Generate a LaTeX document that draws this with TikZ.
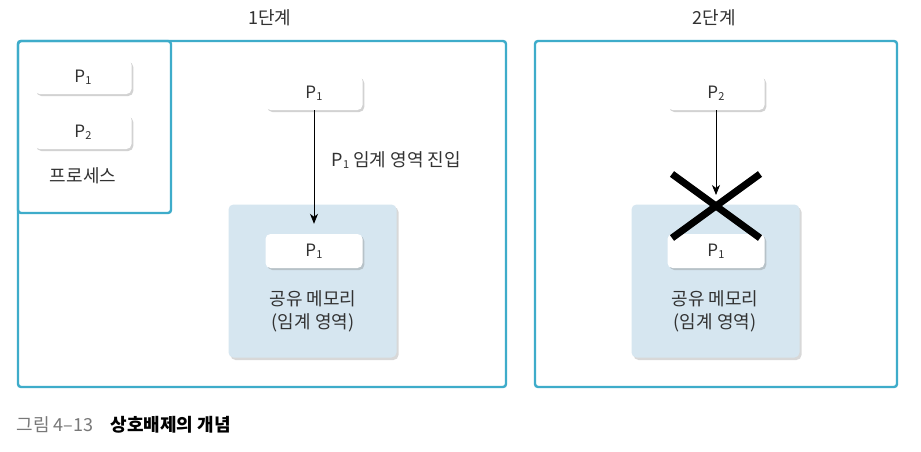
\documentclass[tikz,border=0pt]{standalone}
\usepackage{fontspec}
\setmainfont{Noto Sans CJK KR}
\usetikzlibrary{shadows,arrows.meta,calc}
\definecolor{frameblue}{RGB}{62,172,202}
\definecolor{memfill}{RGB}{214,230,240}
\definecolor{txt}{RGB}{50,50,50}
\definecolor{capgray}{RGB}{120,120,120}
\newcommand{\Pn}[1]{P\kern0.3pt\raisebox{-0.25ex}{\fontsize{11}{11}\selectfont #1}}
\tikzset{
  frame/.style={draw=frameblue, line width=2.4pt, rounded corners=3pt},
  procbox/.style={draw=none, fill=white, rounded corners=5pt, minimum width=97pt, minimum height=34pt,
     drop shadow={opacity=0.35, shadow xshift=1.8pt, shadow yshift=-2pt}, font=\fontsize{17}{19}\selectfont, text=txt},
  membox/.style={draw=none, fill=memfill, rounded corners=5pt, minimum width=168pt, minimum height=153pt,
     drop shadow={opacity=0.3, shadow xshift=2pt, shadow yshift=-2.5pt}},
  lbl/.style={font=\fontsize{18}{23}\selectfont, text=txt, align=center},
  arr/.style={-{Stealth[length=10pt,width=8pt,inset=3pt]}, line width=0.8pt, black},
  crossline/.style={line width=7pt, black}
}
\begin{document}
\begin{tikzpicture}[x=1pt,y=-1pt]
\useasboundingbox (0,0) rectangle (921,452);
\fill[white] (0,0) rectangle (921,452);
% titles
\node[lbl] (t1) at (270,18) {1단계};
\node[lbl] (t2) at (714,18) {2단계};
% frames
\draw[frame] (18,41) rectangle (506,387);
\draw[frame] (18,41) rectangle (171,213);
\draw[frame] (535,41) rectangle (897,387);
% process list
\node[procbox] (lp1) at (83,77) {\Pn{1}};
\node[procbox] (lp2) at (83,132) {\Pn{2}};
\node[lbl] (proc) at (83,176) {프로세스};
% stage 1
\node[procbox] (a1) at (314,93) {\Pn{1}};
\node[membox] (m1) at (312.5,281) {};
\node[procbox] (m1p) at (314,251) {\Pn{1}};
\node[lbl, anchor=north] (m1t) at (313,287) {공유 메모리\\(임계 영역)};
\draw[arr] (a1.south) -- (m1p.north) [shorten >=10pt];
\node[lbl, anchor=west] (lab) at (328,160) {\Pn{1} 임계 영역 진입};
% stage 2
\node[procbox] (b2) at (716,93) {\Pn{2}};
\node[membox] (m2) at (715.5,281) {};
\node[procbox] (m2p) at (716,251) {\Pn{1}};
\node[lbl, anchor=north] (m2t) at (715,287) {공유 메모리\\(임계 영역)};
\coordinate (x2) at (716,206);
\draw[arr] (b2.south) -- (x2) [shorten >=11pt];
\draw[crossline] ($(x2)+(-44,-32)$) -- ($(x2)+(44,32)$);
\draw[crossline] ($(x2)+(44,-32)$) -- ($(x2)+(-44,32)$);
% caption
\node[anchor=west, font=\fontsize{18}{20}\selectfont, text=capgray] (cap1) at (13,425) {그림 4–13};
\node[anchor=west, font=\fontsize{18}{20}\selectfont\bfseries, text=black] (cap2) at (107,425) {상호배제의 개념};
\end{tikzpicture}
\end{document}
